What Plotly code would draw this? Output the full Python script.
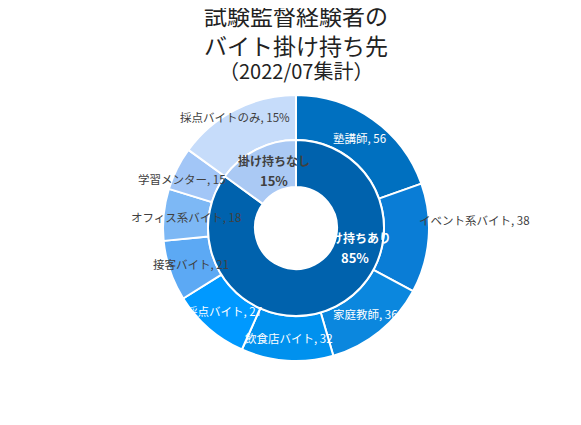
### plot.py
# Double doughnut: side jobs of exam proctors (2022/07)

import math
import plotly.graph_objects as go

# outer ring: side jobs held alongside proctoring (counts)
JOBS = ['塾講師', 'イベント系バイト', '家庭教師', '飲食店バイト', '採点バイト',
        '接客バイト', 'オフィス系バイト', '学習メンター']
JOB_COUNTS = [56, 38, 36, 32, 27, 21, 18, 15]
ONLY_LABEL = '採点バイトのみ'

# inner ring: share with / without another job (%)
GROUPS = ['掛け持ちあり', '掛け持ちなし']
GROUP_SHARES = [85, 15]

TITLE_LINES = ['試験監督経験者の', 'バイト掛け持ち先', '（2022/07集計）']

# colours
JOB_COLORS = ['#0070C0', '#0A7DD6', '#0B87DE', '#0091EE', '#0099FF',
              '#5CA9F4', '#7DB8F5', '#A2C6F7', '#C6DCFA']
GROUP_COLORS = ['#0062AD', '#AAC9F4']
JOB_TEXT_COLORS = ['white', '#404040', 'white', 'white', 'white',
                   '#404040', '#404040', '#404040', '#404040']
GROUP_TEXT_COLORS = ['white', '#404040']

FONT = 'Noto Sans CJK JP'
W, H = 581, 425
OFF = 8                    # page body margin in the browser
CX, CY = 296 - OFF, 228 - OFF   # ring centre, figure px
R_OUT, R_MID, R_HOLE = 133, 88, 41


def dom(r):
    return dict(x=[(CX - r) / W, (CX + r) / W], y=[1 - (CY + r) / H, 1 - (CY - r) / H])


# outer values: jobs share the 85% slice, the 'only' slice keeps its 15%
total = sum(JOB_COUNTS)
outer_vals = [c / total * GROUP_SHARES[0] for c in JOB_COUNTS] + [GROUP_SHARES[1]]
outer_text = [f'{j}, {c}' for j, c in zip(JOBS, JOB_COUNTS)] + [f'{ONLY_LABEL}, {GROUP_SHARES[1]}%']

fig = go.Figure()

fig.add_trace(go.Pie(
    values=outer_vals, labels=JOBS + [ONLY_LABEL],
    hole=R_MID / R_OUT, sort=False, direction='clockwise', rotation=0,
    domain=dom(R_OUT), textinfo='none', hoverinfo='label',
    marker=dict(colors=JOB_COLORS, line=dict(color='white', width=2)),
))
fig.add_trace(go.Pie(
    values=GROUP_SHARES, labels=GROUPS,
    hole=R_HOLE / R_MID, sort=False, direction='clockwise', rotation=0,
    domain=dom(R_MID), textinfo='none', hoverinfo='label+percent',
    marker=dict(colors=GROUP_COLORS, line=dict(color='white', width=2)),
))


### data labels at slice centroids (a few were dragged in the original)
NUDGE_OUT = {1: (68, -17), 7: (-15, 0), 8: (-11, -13)}
NUDGE_IN = {0: (30, -38), 1: (7, 0)}


def centroid(vals, i, r):
    s = sum(vals)
    a = (sum(vals[:i]) + vals[i] / 2) / s * 2 * math.pi
    return CX + r * math.sin(a), CY - r * math.cos(a)


def add_label(px_, py_, text, color, size, bold=False):
    fig.add_annotation(
        text=f'<b>{text}</b>' if bold else text, showarrow=False,
        x=px_ / W, y=1 - py_ / H, xref='paper', yref='paper',
        xanchor='center', yanchor='middle',
        font=dict(family=FONT, size=size, color=color),
    )


for i, t in enumerate(outer_text):
    x, y = centroid(outer_vals, i, (R_OUT + R_MID) / 2)
    dx, dy = NUDGE_OUT.get(i, (0, 0))
    add_label(x + dx, y + dy, t, JOB_TEXT_COLORS[i], 11.5)

for i, g in enumerate(GROUPS):
    x, y = centroid(GROUP_SHARES, i, (R_MID + R_HOLE) / 2)
    dx, dy = NUDGE_IN.get(i, (0, 0))
    add_label(x + dx, y + dy - 10, g, GROUP_TEXT_COLORS[i], 12, bold=True)
    add_label(x + dx, y + dy + 10, f'{GROUP_SHARES[i]}%', GROUP_TEXT_COLORS[i], 13, bold=True)


### title, one annotation per line
for t, yc, sz in zip(TITLE_LINES, [15, 45, 70], [23, 23, 20]):
    fig.add_annotation(
        text=t, showarrow=False, x=(296 - OFF) / W, y=1 - (yc - OFF) / H,
        xref='paper', yref='paper', xanchor='center', yanchor='middle',
        font=dict(family=FONT, size=sz, color='#222222'),
    )

fig.update_layout(
    width=W, height=H,
    margin=dict(l=0, r=0, t=0, b=0),
    showlegend=False,
    paper_bgcolor='white', plot_bgcolor='white',
    font=dict(family=FONT),
)

fig.write_html('out.html')
